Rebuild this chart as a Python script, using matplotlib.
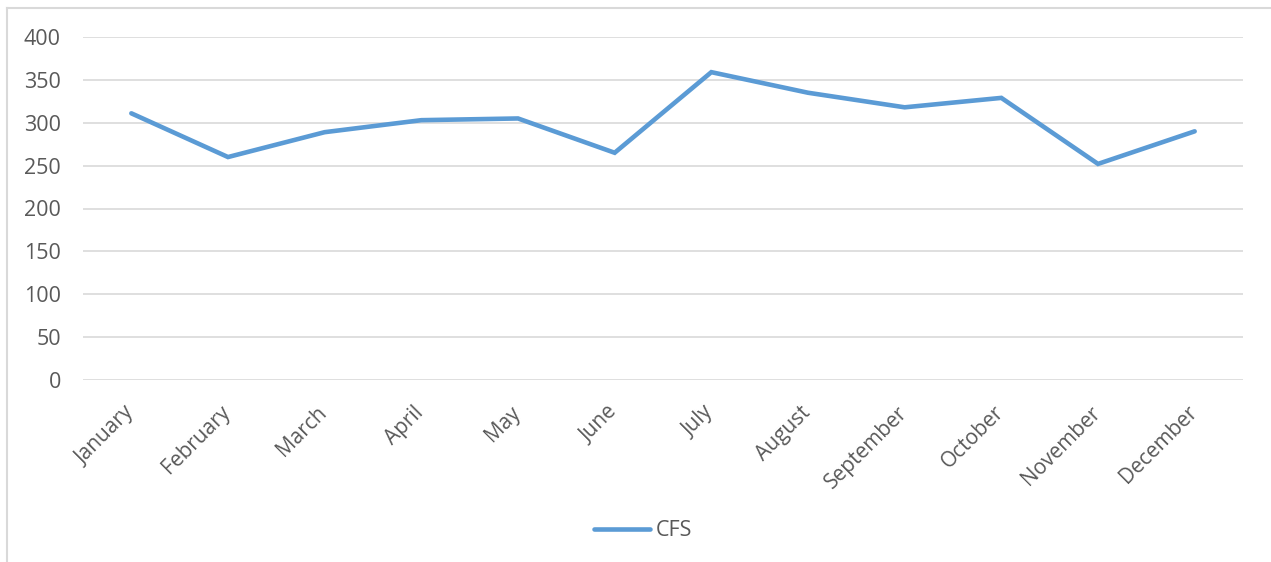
import matplotlib
matplotlib.use("Agg")
import matplotlib.pyplot as plt
from matplotlib.lines import Line2D
from matplotlib.transforms import ScaledTranslation

months = ["January", "February", "March", "April", "May", "June",
          "July", "August", "September", "October", "November", "December"]
cfs = [311, 260, 289, 303, 305, 265, 359, 335, 318, 329, 252, 290]
yticks = [0, 50, 100, 150, 200, 250, 300, 350, 400]

plt.rcParams["font.family"] = ["Open Sans", "DejaVu Sans"]
text_color = "#595959"
grid_color = "#D9D9D9"
line_color = "#5B9BD5"

W, H = 1271, 562
fig = plt.figure(figsize=(W / 100, H / 100), dpi=100)
fig.patch.set_facecolor("white")

# chart-area frame (top and left edges)
fig.add_artist(Line2D([7 / W, 7 / W], [0, 1 - 8 / H], color=grid_color, lw=1.5))
fig.add_artist(Line2D([7 / W, 1], [1 - 8 / H, 1 - 8 / H], color=grid_color, lw=1.5))

ax = fig.add_axes([83 / W, 1 - 380 / H, (1243 - 83) / W, (380 - 37) / H])
x = list(range(len(months)))
ax.plot(x, cfs, color=line_color, lw=3.3, solid_capstyle="round",
        solid_joinstyle="miter", label="CFS", zorder=3)

ax.set_xlim(-0.5, len(months) - 0.5)
ax.set_ylim(0, 400)
ax.set_yticks(yticks)
ax.set_yticklabels([str(v) for v in yticks])
ax.yaxis.grid(True, color=grid_color, lw=1.2)
ax.set_axisbelow(True)
for s in ax.spines.values():
    s.set_visible(False)
ax.tick_params(axis="y", length=0, pad=16, labelsize=15.5, labelcolor=text_color)
ax.tick_params(axis="x", length=0, pad=10, labelsize=15, labelcolor=text_color)
ax.set_xticks(x)
ax.set_xticklabels(months, rotation=45, ha="right", rotation_mode="anchor")
shift = ScaledTranslation(-8 / 100, -8 / 100, fig.dpi_scale_trans)
for lbl in ax.get_xticklabels():
    lbl.set_transform(lbl.get_transform() + shift)

leg = fig.legend(handles=[Line2D([], [], color=line_color, lw=3.3,
                                 solid_capstyle="round")],
                 labels=["CFS"], loc="center", bbox_to_anchor=(643 / W, 1 - 531 / H),
                 frameon=False, fontsize=15.5, handlelength=2.6, handletextpad=0.3)
for t in leg.get_texts():
    t.set_color(text_color)

fig.savefig("out.png", dpi=100, facecolor="white")
